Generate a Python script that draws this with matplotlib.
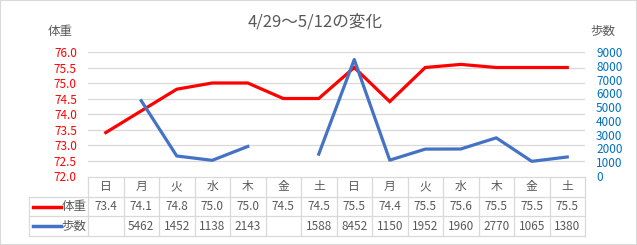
import numpy as np
import matplotlib
matplotlib.use('Agg')
import matplotlib.pyplot as plt
from matplotlib.patches import Rectangle

plt.rcParams['font.family'] = ['Noto Sans CJK JP', 'DejaVu Sans']

# data
days = ['日', '月', '火', '水', '木', '金', '土', '日', '月', '火', '水', '木', '金', '土']
weight = [73.4, 74.1, 74.8, 75.0, 75.0, 74.5, 74.5, 75.5, 74.4, 75.5, 75.6, 75.5, 75.5, 75.5]
steps = [np.nan, 5462, 1452, 1138, 2143, np.nan, 1588, 8452, 1150, 1952, 1960, 2770, 1065, 1380]
weight_ticks = [72.0, 72.5, 73.0, 73.5, 74.0, 74.5, 75.0, 75.5, 76.0]
step_ticks = list(range(0, 9001, 1000))

W, H = 637, 245
red = '#FF0000'
blue = '#4472C4'
grid_c = '#D9D9D9'
txt_c = '#595959'

fig = plt.figure(figsize=(W / 100, H / 100), dpi=100)
fig.patches.append(Rectangle((0, 0), 1, 1, transform=fig.transFigure,
                             fill=False, edgecolor=grid_c, linewidth=1.5))

left, right, top, bottom = 88, 585, 52, 176
ax = fig.add_axes([left / W, 1 - bottom / H, (right - left) / W, (bottom - top) / H])
x = np.arange(len(days))
ax.plot(x, weight, color=red, linewidth=2.3, solid_joinstyle='miter')
ax.set_xlim(-0.5, len(days) - 0.5)
ax.set_ylim(72.0, 76.0)
ax.set_yticks(weight_ticks)
ax.set_yticklabels([f'{v:.1f}' for v in weight_ticks], color=red, fontsize=8.5)
ax.set_xticks([])
ax.tick_params(axis='y', length=0, pad=8)
for v in weight_ticks[1:]:
    ax.axhline(v, color=grid_c, linewidth=0.9, zorder=0)
for s in ax.spines.values():
    s.set_visible(False)

ax2 = ax.twinx()
ax2.plot(x, steps, color=blue, linewidth=2.3)
ax2.set_ylim(0, 9000)
ax2.set_yticks(step_ticks)
ax2.set_yticklabels([str(v) for v in step_ticks], color='#0070C0', fontsize=8.5)
ax2.tick_params(axis='y', length=0, pad=8)
for s in ax2.spines.values():
    s.set_visible(False)

# data table
tb_top, tb_bot = 177, 236
axt = fig.add_axes([left / W, 1 - tb_bot / H, (right - left) / W, (tb_bot - tb_top) / H])
axt.set_xlim(-0.5, len(days) - 0.5)
axt.set_ylim(3, 0)
axt.axis('off')
unit = (right - left) / len(days)
leg_x = -0.5 - (left - 29) / unit
kw = dict(color=grid_c, linewidth=0.9, clip_on=False)
axt.plot([-0.5, len(days) - 0.5], [0, 0], **kw)
for r in (1, 2, 3):
    axt.plot([leg_x, len(days) - 0.5], [r, r], **kw)
axt.plot([leg_x, leg_x], [1, 3], **kw)
for c in range(len(days) + 1):
    axt.plot([c - 0.5, c - 0.5], [0, 3], **kw)
for i, d in enumerate(days):
    axt.text(i, 0.5, d, ha='center', va='center', fontsize=8.5, color=txt_c)
    axt.text(i, 1.5, f'{weight[i]:.1f}', ha='center', va='center', fontsize=8.5, color=txt_c)
    if not np.isnan(steps[i]):
        axt.text(i, 2.5, f'{int(steps[i])}', ha='center', va='center', fontsize=8.5, color=txt_c)
seg = 28 / unit
for r, lab, col in ((1.5, '体重', red), (2.5, '歩数', blue)):
    axt.plot([leg_x + 0.1, leg_x + 0.1 + seg], [r, r], color=col, linewidth=2.5, clip_on=False)
    axt.text(leg_x + 0.12 + seg, r, lab, ha='left', va='center', fontsize=9, color=txt_c)

fig.text(315 / W, 1 - 22 / H, '4/29～5/12の変化', ha='center', va='center', fontsize=12, color=txt_c)
fig.text(60 / W, 1 - 31 / H, '体重', ha='center', va='center', fontsize=9, color=txt_c)
fig.text(603 / W, 1 - 31 / H, '歩数', ha='center', va='center', fontsize=9, color=txt_c)

fig.savefig('out.png', dpi=100)
